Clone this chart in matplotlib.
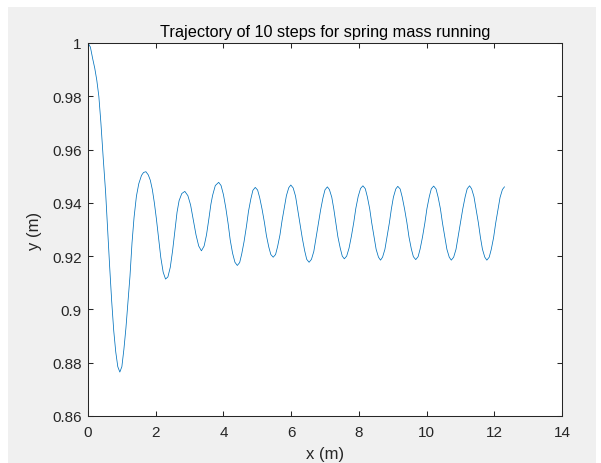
import numpy as np
import matplotlib
matplotlib.use('Agg')
import matplotlib.pyplot as plt
from matplotlib.patches import Rectangle

plt.rcParams.update({'font.family': ['Liberation Sans', 'DejaVu Sans'], 'font.size': 11})

# trajectory, x (m) and y (m)
x_pos = [0.00, 0.07, 0.14, 0.20, 0.26, 0.32, 0.38, 0.45, 0.52, 0.58, 0.64, 0.70, 0.76, 0.82, 0.88,
         0.94, 1.00, 1.06, 1.12, 1.18, 1.24, 1.30, 1.36, 1.43, 1.50, 1.58, 1.64,
         1.71, 1.78, 1.84, 1.90, 1.96, 2.02, 2.09, 2.15, 2.22,
         2.29, 2.36, 2.43, 2.50, 2.57, 2.63, 2.69, 2.77,
         2.86, 2.95, 3.03, 3.11, 3.19, 3.27,
         3.35, 3.43, 3.50, 3.57, 3.63, 3.68, 3.76,
         3.86, 3.93, 4.00, 4.07, 4.14, 4.20, 4.27, 4.34,
         4.41, 4.48, 4.54, 4.61, 4.68, 4.74, 4.81, 4.87,
         4.94, 5.01, 5.07, 5.14, 5.21, 5.27, 5.34, 5.40,
         5.47, 5.54, 5.60, 5.67, 5.73, 5.80, 5.86, 5.93,
         5.99, 6.06, 6.13, 6.19, 6.26, 6.33, 6.40, 6.46,
         6.53, 6.60, 6.67, 6.73, 6.80, 6.87, 6.94, 7.00,
         7.07, 7.13, 7.20, 7.26, 7.32, 7.38, 7.45, 7.51,
         7.57, 7.64, 7.71, 7.78, 7.85, 7.91, 7.98, 8.05,
         8.12, 8.19, 8.25, 8.32, 8.38, 8.45, 8.51, 8.58,
         8.64, 8.70, 8.77, 8.83, 8.90, 8.96, 9.02, 9.09,
         9.15, 9.22, 9.28, 9.35, 9.42, 9.48, 9.55, 9.61,
         9.68, 9.75, 9.81, 9.88, 9.95, 10.01, 10.08, 10.14,
         10.21, 10.28, 10.34, 10.41, 10.47, 10.54, 10.60, 10.67,
         10.73, 10.80, 10.87, 10.93, 11.00, 11.07, 11.14, 11.20,
         11.27, 11.33, 11.40, 11.46, 11.53, 11.59, 11.65, 11.72,
         11.78, 11.85, 11.91, 11.98, 12.04, 12.11, 12.17, 12.24,
         12.30]
y_pos = [1.0000, 0.9985, 0.9940, 0.9905, 0.9860, 0.9800, 0.9702, 0.9567, 0.9440, 0.9300, 0.9160, 0.9030, 0.8920, 0.8840, 0.8785,
         0.8765, 0.8785, 0.8850, 0.8930, 0.9025, 0.9125, 0.9250, 0.9345, 0.9425, 0.9472, 0.9503, 0.9514,
         0.9517, 0.9505, 0.9485, 0.9450, 0.9400, 0.9340, 0.9262, 0.9195, 0.9140,
         0.9114, 0.9122, 0.9158, 0.9222, 0.9300, 0.9365, 0.9408, 0.9435,
         0.9443, 0.9427, 0.9392, 0.9337, 0.9280, 0.9238,
         0.9220, 0.9238, 0.9280, 0.9340, 0.9395, 0.9428, 0.9465,
         0.9477, 0.9465, 0.9431, 0.9381, 0.9321, 0.9261, 0.9211, 0.9177,
         0.9165, 0.9176, 0.9208, 0.9255, 0.9312, 0.9368, 0.9415, 0.9447,
         0.9458, 0.9448, 0.9420, 0.9377, 0.9327, 0.9277, 0.9234, 0.9206,
         0.9196, 0.9206, 0.9236, 0.9280, 0.9332, 0.9383, 0.9427, 0.9457,
         0.9467, 0.9456, 0.9425, 0.9378, 0.9322, 0.9267, 0.9220, 0.9188,
         0.9177, 0.9188, 0.9218, 0.9264, 0.9319, 0.9373, 0.9419, 0.9449,
         0.9460, 0.9450, 0.9421, 0.9377, 0.9325, 0.9273, 0.9230, 0.9200,
         0.9190, 0.9200, 0.9230, 0.9275, 0.9327, 0.9379, 0.9424, 0.9454,
         0.9464, 0.9453, 0.9423, 0.9378, 0.9325, 0.9271, 0.9226, 0.9196,
         0.9185, 0.9196, 0.9226, 0.9271, 0.9324, 0.9377, 0.9421, 0.9452,
         0.9462, 0.9452, 0.9422, 0.9377, 0.9325, 0.9272, 0.9227, 0.9198,
         0.9187, 0.9198, 0.9227, 0.9272, 0.9325, 0.9378, 0.9423, 0.9453,
         0.9463, 0.9452, 0.9422, 0.9377, 0.9324, 0.9271, 0.9226, 0.9196,
         0.9185, 0.9196, 0.9226, 0.9271, 0.9325, 0.9378, 0.9423, 0.9453,
         0.9464, 0.9453, 0.9423, 0.9378, 0.9325, 0.9271, 0.9226, 0.9196,
         0.9185, 0.9196, 0.9225, 0.9270, 0.9323, 0.9375, 0.9420, 0.9450,
         0.9460]

x_ticks = [0, 2, 4, 6, 8, 10, 12, 14]
y_ticks = [0.86, 0.88, 0.9, 0.92, 0.94, 0.96, 0.98, 1]
y_tick_labels = ['0.86', '0.88', '0.9', '0.92', '0.94', '0.96', '0.98', '1']

W, H = 601, 464
fig = plt.figure(figsize=(W/100, H/100), dpi=100, facecolor='white')
# matlab style grey figure window, behind the axes
fig.patches.append(Rectangle((8/W, 0), 588/W, 456/H, transform=fig.transFigure,
                             facecolor='#f0f0f0', edgecolor='none', zorder=-10))

ax = fig.add_axes([88/W, 1 - 417/H, 474/W, 373/H])
ax.set_facecolor('white')
ax.plot(x_pos, y_pos, color='#0072BD', linewidth=0.55)

ax.set_xlim(0, 14)
ax.set_ylim(0.86, 1)
ax.set_xticks(x_ticks)
ax.set_yticks(y_ticks)
ax.set_yticklabels(y_tick_labels)

axis_col = '#262626'
for s in ax.spines.values():
    s.set_color(axis_col)
    s.set_linewidth(0.75)
ax.tick_params(direction='in', top=True, right=True, length=3.5, width=0.75,
               color=axis_col, labelcolor=axis_col, labelsize=11, pad=4.5)
ax.tick_params(axis='x', pad=6.5)

ax.set_title('Trajectory of 10 steps for spring mass running', fontsize=11.7, pad=5)
ax.set_xlabel('x (m)', fontsize=12, color=axis_col, labelpad=5)
ax.set_ylabel('y (m)', fontsize=12, color=axis_col, labelpad=7)

fig.savefig('out.png', dpi=100, facecolor=fig.get_facecolor())
